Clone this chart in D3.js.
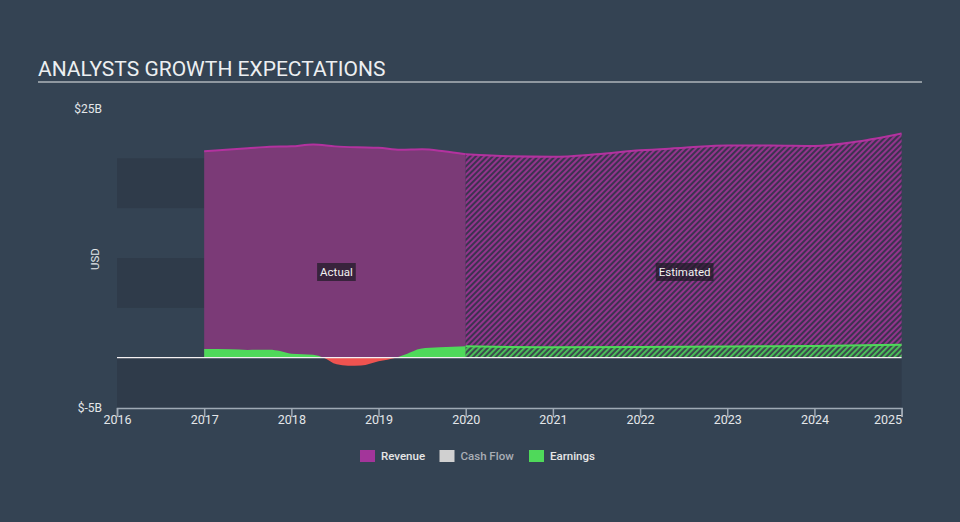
<!DOCTYPE html>
<html>
<head>
<meta charset="utf-8">
<script src="https://cdn.jsdelivr.net/npm/d3@7"></script>
<style>
  html, body { margin: 0; padding: 0; background: #344353; }
  svg { display: block; font-family: Roboto, "Noto Sans", sans-serif; }
</style>
</head>
<body>
<svg id="chart" width="960" height="522"></svg>
<script>
// ---- data ----
const xTicks = [2016, 2017, 2018, 2019, 2020, 2021, 2022, 2023, 2024, 2025];
const yTickLabels = ["$25B", "$-5B"];
const yTickValues = [25, -5];
const bandValues = [[15, 20], [5, 10], [-5, 0]];

const revenueActualYears = [2017, 2017.25, 2017.5, 2017.75, 2018, 2018.25, 2018.5, 2018.75, 2019, 2019.25, 2019.5, 2019.75, 2020];
const revenueActual      = [20.7, 20.85, 21.0, 21.15, 21.2, 21.4, 21.2, 21.1, 21.05, 20.85, 20.9, 20.7, 20.4];

const revenueEstYears = [2020, 2020.5, 2021, 2021.5, 2022, 2022.5, 2023, 2023.5, 2024, 2024.5, 2025];
const revenueEst      = [20.4, 20.2, 20.15, 20.4, 20.8, 21.05, 21.3, 21.3, 21.25, 21.7, 22.5];

const earningsActualYears = [2017, 2017.3, 2017.5, 2017.75, 2017.87, 2018, 2018.25, 2018.37, 2018.52, 2018.65, 2018.8, 2019, 2019.2, 2019.33, 2019.48, 2019.7, 2020];
const earningsActual      = [0.87, 0.84, 0.78, 0.8, 0.67, 0.4, 0.3, 0.0, -0.67, -0.8, -0.78, -0.36, 0.0, 0.4, 0.9, 1.04, 1.15];

const earningsEstYears = [2020, 2020.5, 2021, 2022, 2023, 2024, 2025];
const earningsEst      = [1.15, 1.08, 1.05, 1.08, 1.12, 1.18, 1.3];

const legendItems = ["Revenue", "Cash Flow", "Earnings"];
const legendColors = ["#a3359a", "#d0d0d0", "#4fd95a"];
const legendTextColors = ["#e6e6e6", "#a9aeb5", "#e6e6e6"];

// ---- setup ----
const svg = d3.select("#chart");
const x = d3.scaleLinear().domain([2016, 2025]).range([117, 901.6]);
const y = d3.scaleLinear().domain([-5, 25]).range([407.5, 108.5]);

const bandColor = "#2f3b4a";
const revFill = "#7b3a77";
const revLine = "#b3329f";
const green = "#4fd95a";
const red = "#ef5350";

const defs = svg.append("defs");
const revPat = defs.append("pattern").attr("id", "revHatch")
  .attr("patternUnits", "userSpaceOnUse").attr("width", 4).attr("height", 4)
  .attr("patternTransform", "rotate(45)");
revPat.append("rect").attr("width", 4).attr("height", 4).attr("fill", "#3c3350");
revPat.append("rect").attr("width", 2).attr("height", 4).attr("fill", "#93348c");

const earnPat = defs.append("pattern").attr("id", "earnHatch")
  .attr("patternUnits", "userSpaceOnUse").attr("width", 4).attr("height", 4)
  .attr("patternTransform", "rotate(45)");
earnPat.append("rect").attr("width", 4).attr("height", 4).attr("fill", "#3b4a4c");
earnPat.append("rect").attr("width", 1.8).attr("height", 4).attr("fill", "#4cc85a");

defs.append("clipPath").attr("id", "clipPos").append("rect")
  .attr("x", 0).attr("y", 0).attr("width", 960).attr("height", y(0));
defs.append("clipPath").attr("id", "clipNeg").append("rect")
  .attr("x", 0).attr("y", y(0)).attr("width", 960).attr("height", 200);

// title
svg.append("text").attr("x", 38).attr("y", 76).text("ANALYSTS GROWTH EXPECTATIONS")
  .attr("fill", "#eceff1").attr("font-size", 21).attr("font-weight", 400);
svg.append("line").attr("x1", 38).attr("x2", 922).attr("y1", 82).attr("y2", 82)
  .attr("stroke", "#aeb4ba").attr("stroke-width", 1.5);

// bands
svg.append("g").selectAll("rect").data(bandValues).join("rect")
  .attr("x", x(2016)).attr("width", x(2025) - x(2016))
  .attr("y", d => y(d[1])).attr("height", d => y(d[0]) - y(d[1]))
  .attr("fill", bandColor);

const areaGen = (xs) => d3.area().x((d, i) => x(xs[i])).y0(y(0)).y1(d => y(d)).curve(d3.curveMonotoneX);
const lineGen = (xs) => d3.line().x((d, i) => x(xs[i])).y(d => y(d)).curve(d3.curveMonotoneX);

// revenue actual
svg.append("path").datum(revenueActual).attr("d", areaGen(revenueActualYears)).attr("fill", revFill);
svg.append("path").datum(revenueActual).attr("d", lineGen(revenueActualYears))
  .attr("fill", "none").attr("stroke", revLine).attr("stroke-width", 2);

// revenue estimated
svg.append("path").datum(revenueEst).attr("d", areaGen(revenueEstYears)).attr("fill", "url(#revHatch)");
svg.append("path").datum(revenueEst).attr("d", lineGen(revenueEstYears))
  .attr("fill", "none").attr("stroke", revLine).attr("stroke-width", 2);

// earnings actual
svg.append("path").datum(earningsActual).attr("d", areaGen(earningsActualYears))
  .attr("fill", green).attr("clip-path", "url(#clipPos)");
svg.append("path").datum(earningsActual).attr("d", areaGen(earningsActualYears))
  .attr("fill", red).attr("clip-path", "url(#clipNeg)");

// earnings estimated
svg.append("path").datum(earningsEst).attr("d", areaGen(earningsEstYears)).attr("fill", "url(#earnHatch)");
svg.append("path").datum(earningsEst).attr("d", lineGen(earningsEstYears))
  .attr("fill", "none").attr("stroke", green).attr("stroke-width", 2);

// zero line
svg.append("line").attr("x1", x(2016)).attr("x2", x(2025)).attr("y1", y(0)).attr("y2", y(0))
  .attr("stroke", "#f4f0f2").attr("stroke-width", 1.2);

// labels Actual / Estimated
function tag(cx, cy, label) {
  const g = svg.append("g");
  const t = g.append("text").attr("x", cx).attr("y", cy).attr("text-anchor", "middle")
    .attr("dominant-baseline", "central").attr("font-size", 11.5).attr("fill", "#f2f2f2").text(label);
  const bb = t.node().getBBox();
  g.insert("rect", "text").attr("x", bb.x - 3).attr("y", cy - 9).attr("width", bb.width + 6).attr("height", 18)
    .attr("fill", "#1e1a26").attr("fill-opacity", 0.72);
}
tag((x(2017) + x(2020)) / 2 + 1.5, 272, "Actual");
tag((x(2020) + x(2025)) / 2 + 1, 272, "Estimated");

// x axis
const xAxis = d3.axisBottom(x).tickValues(xTicks).tickFormat(d3.format("d")).tickSize(9).tickSizeOuter(9);
const gx = svg.append("g").attr("transform", `translate(0,${408})`).call(xAxis);
gx.select(".domain").attr("stroke", "#9fa9b4").attr("stroke-width", 1.5);
gx.selectAll(".tick line").attr("stroke", "#9fa9b4").attr("stroke-width", 1.5);
gx.selectAll(".tick text").attr("fill", "#e3e6e9").attr("font-size", 12.5).attr("font-family", "Roboto")
  .attr("dy", "0.45em").attr("y", 10)
  .attr("text-anchor", d => d === 2025 ? "end" : "middle");

// y labels
svg.append("g").selectAll("text").data(yTickValues).join("text")
  .attr("x", 102).attr("y", d => y(d)).attr("text-anchor", "end").attr("dominant-baseline", "central")
  .attr("font-size", 12).attr("fill", "#e3e6e9").text((d, i) => yTickLabels[i]);

svg.append("text").attr("transform", "translate(95,259) rotate(-90)").attr("text-anchor", "middle")
  .attr("dominant-baseline", "central").attr("font-size", 11.5).attr("fill", "#e3e6e9").text("USD");

// legend
const legendX = [360, 439.5, 529];
const lg = svg.append("g").selectAll("g").data(legendItems).join("g")
  .attr("transform", (d, i) => `translate(${legendX[i]},450)`);
lg.append("rect").attr("width", 15).attr("height", 12).attr("fill", (d, i) => legendColors[i]);
lg.append("text").attr("x", 21).attr("y", 6).attr("dominant-baseline", "central")
  .attr("font-size", 11.5).attr("font-weight", 500).attr("fill", (d, i) => legendTextColors[i]).text(d => d);
</script>
</body>
</html>
